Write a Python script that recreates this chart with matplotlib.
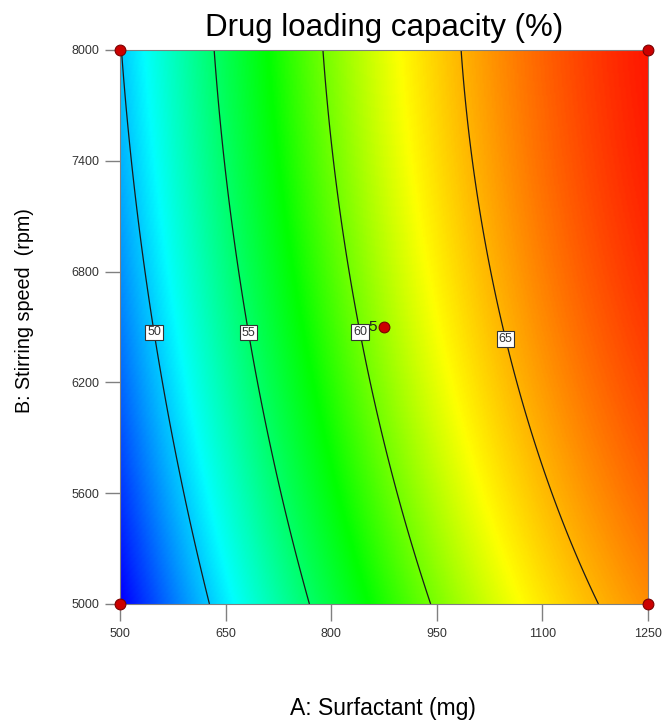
import numpy as np
import matplotlib
matplotlib.use("Agg")
from matplotlib import pyplot as plt
from matplotlib.colors import LinearSegmentedColormap

plt.rcParams['font.family'] = ['Liberation Sans', 'DejaVu Sans']

# contour crossings: A (mg) where each level meets B = 5000, 6500, 8000 rpm
levels = [50, 55, 60, 65]
b_read = [5000, 6500, 8000]
a_read = {
    50: [626, 547, 503],
    55: [770, 683, 632],
    60: [942, 838, 788],
    65: [1179, 1043, 986],
}
# response values where the shading is pure blue, cyan, green, yellow, red
shade_vals = [45, 51.3, 57.6, 63, 70]
shade_cols = ["#0000ff", "#00ffff", "#00ff00", "#ffff00", "#ff0000"]

# design points
design_a = [500, 1250, 500, 1250, 875]
design_b = [5000, 5000, 8000, 8000, 6500]

x_ticks = [500, 650, 800, 950, 1100, 1250]
y_ticks = [5000, 5600, 6200, 6800, 7400, 8000]


def coded(a, b):
    return (np.asarray(a) - 875) / 375, (np.asarray(b) - 6500) / 1500


def terms(a, b):
    a, b = coded(a, b)
    return np.stack([np.ones_like(a), a, b, a * b, a ** 2, b ** 2], axis=-1)


# quadratic response surface fitted through the read crossings
pa, pb, pz = [], [], []
for lv in levels:
    for bb, aa in zip(b_read, a_read[lv]):
        pa.append(aa); pb.append(bb); pz.append(lv)
coef, *_ = np.linalg.lstsq(terms(np.array(pa, float), np.array(pb, float)), np.array(pz, float), rcond=None)

A, B = np.meshgrid(np.linspace(500, 1250, 400), np.linspace(5000, 8000, 400))
Z = terms(A, B) @ coef

lo, hi = shade_vals[0], shade_vals[-1]
cmap = LinearSegmentedColormap.from_list(
    "de", [((v - lo) / (hi - lo), c) for v, c in zip(shade_vals, shade_cols)])

fig = plt.figure(figsize=(6.62, 7.23), dpi=100)
ax = fig.add_axes([120 / 662, 1 - 604 / 723, 528 / 662, 554 / 723])
ax.pcolormesh(A, B, Z, cmap=cmap, shading="gouraud", vmin=lo, vmax=hi)
cs = ax.contour(A, B, Z, levels=levels, colors="#1a1a1a", linewidths=0.9)
lbls = ax.clabel(cs, fmt="%d", fontsize=9, inline=False,
                 manual=[(547, 6470), (683, 6470), (838, 6470), (1043, 6430)])
for t in lbls:
    t.set_rotation(0)
    t.set_bbox(dict(facecolor="white", edgecolor="#333333", boxstyle="square,pad=0.15", linewidth=0.8))
    t.set_color("#333333")

ax.scatter(design_a, design_b, s=60, color="#cc0000", edgecolors="#7a0000", linewidths=0.8,
           zorder=5, clip_on=False)
ax.text(865, 6500, "5", ha="right", va="center", fontsize=11, color="#222222", zorder=6)

ax.set_xlim(500, 1250)
ax.set_ylim(5000, 8000)
ax.set_xticks(x_ticks)
ax.set_yticks(y_ticks)
ax.tick_params(axis="x", direction="out", length=12, width=1, color="#808080", labelsize=9,
               labelcolor="#333333", pad=5)
ax.tick_params(axis="y", direction="out", length=11, width=1, color="#808080", labelsize=9,
               labelcolor="#333333", pad=4)
for s in ax.spines.values():
    s.set_color("#808080")

ax.set_title("Drug loading capacity (%)", fontsize=22.5, pad=10)
ax.set_xlabel("A: Surfactant (mg)", fontsize=16.5)
ax.set_ylabel("B: Stirring speed  (rpm)", fontsize=14.2)
# label centres (pixels -> axes fraction)
ax.xaxis.set_label_coords((383 - 120) / 528, -(709 - 604) / 554)
ax.yaxis.set_label_coords(-(120 - 25) / 528, (604 - 311) / 554)
ax.xaxis.label.set_va("center")
ax.yaxis.label.set_va("center")

fig.savefig("out.png", dpi=100)
